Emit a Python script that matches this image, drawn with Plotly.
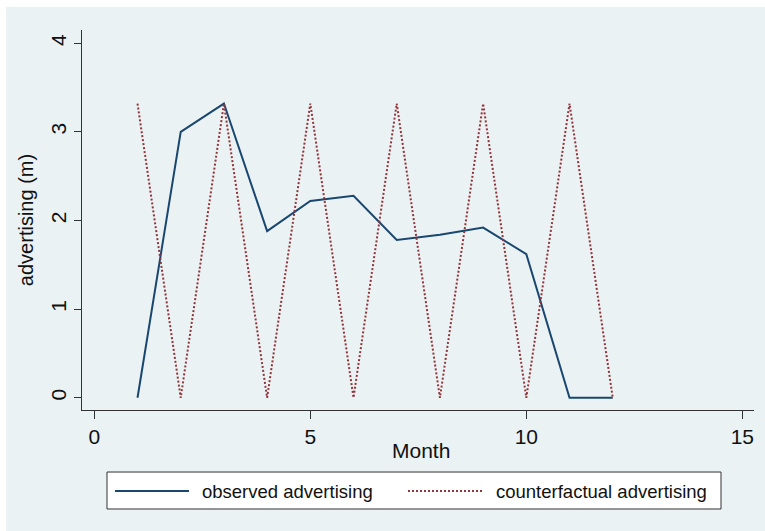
import plotly.graph_objects as go

# Monthly advertising spend (millions)
months = [1, 2, 3, 4, 5, 6, 7, 8, 9, 10, 11, 12]
observed = [0.0, 3.0, 3.32, 1.88, 2.22, 2.28, 1.78, 1.84, 1.92, 1.62, 0.0, 0.0]
counterfactual = [3.32, 0.0, 3.32, 0.0, 3.32, 0.0, 3.32, 0.0, 3.32, 0.0, 3.32, 0.0]

series_names = ["observed advertising", "counterfactual advertising"]
x_ticks = [0, 5, 10, 15]
y_ticks = [0, 1, 2, 3, 4]
grid_levels = [0, 1, 2, 3]

NAVY = "#1a476f"
MAROON = "#90353b"
BG = "#eaf2f3"
AXIS = "#333333"
TEXT = "#111111"
FONT = "Liberation Sans"

fig = go.Figure()
fig.add_trace(go.Scatter(x=months, y=observed, mode="lines", name=series_names[0],
                         line=dict(color=NAVY, width=2)))
fig.add_trace(go.Scatter(x=months, y=counterfactual, mode="lines", name=series_names[1],
                         line=dict(color=MAROON, width=2, dash="2px,2px")))

shapes = []
# outer graph region
shapes.append(dict(type="rect", xref="paper", yref="paper", x0=-0.1131, x1=1.05,
                   y0=-0.4, y1=1.0605, fillcolor=BG, line=dict(width=0), layer="below"))
# horizontal grid lines
for g in grid_levels:
    shapes.append(dict(type="line", xref="paper", yref="y", x0=0, x1=1, y0=g, y1=g,
                       line=dict(color=BG, width=1.5), layer="below"))

# legend box with line samples
shapes.append(dict(type="rect", xref="paper", yref="paper", x0=0.0372, x1=0.9509,
                   y0=-0.2605, y1=-0.1632, fillcolor="white", line=dict(color=AXIS, width=1)))
shapes.append(dict(type="line", xref="paper", yref="paper", x0=0.0491, x1=0.1592,
                   y0=-0.2132, y1=-0.2132, line=dict(color=NAVY, width=2)))
shapes.append(dict(type="line", xref="paper", yref="paper", x0=0.4851, x1=0.5967,
                   y0=-0.2132, y1=-0.2132, line=dict(color=MAROON, width=2, dash="2px,2px")))

annotations = [
    dict(text=series_names[0], xref="paper", yref="paper", x=0.1756, y=-0.2132,
         xanchor="left", yanchor="middle", showarrow=False,
         font=dict(family=FONT, size=18.5, color=TEXT)),
    dict(text=series_names[1], xref="paper", yref="paper", x=0.6131, y=-0.2132,
         xanchor="left", yanchor="middle", showarrow=False,
         font=dict(family=FONT, size=18.5, color=TEXT)),
    # x axis title
    dict(text="Month", xref="paper", yref="paper", x=0.5045, y=-0.1066,
         xanchor="center", yanchor="middle", showarrow=False,
         font=dict(family=FONT, size=21, color=TEXT)),
]

fig.update_layout(
    width=765, height=531,
    margin=dict(l=82, r=11, t=30, b=121),
    paper_bgcolor="white",
    plot_bgcolor="white",
    showlegend=False,
    shapes=shapes,
    annotations=annotations,
    font=dict(family=FONT, size=20, color=TEXT),
    xaxis=dict(
        range=[-0.285, 15.27], tickvals=x_ticks, ticks="outside", ticklen=8,
        tickcolor=AXIS, tickwidth=1, showgrid=False, zeroline=False,
        showline=True, linecolor=AXIS, linewidth=1,
        tickfont=dict(family=FONT, size=21, color=TEXT),
    ),
    yaxis=dict(
        range=[-0.138, 4.15], tickvals=y_ticks, ticks="outside", ticklen=7,
        tickcolor=AXIS, tickwidth=1, showgrid=False, zeroline=False,
        showline=True, linecolor=AXIS, linewidth=1, tickangle=-90,
        tickfont=dict(family=FONT, size=21, color=TEXT),
        title=dict(text="advertising (m)", font=dict(family=FONT, size=20), standoff=7),
    ),
)

fig.write_html("out.html")
